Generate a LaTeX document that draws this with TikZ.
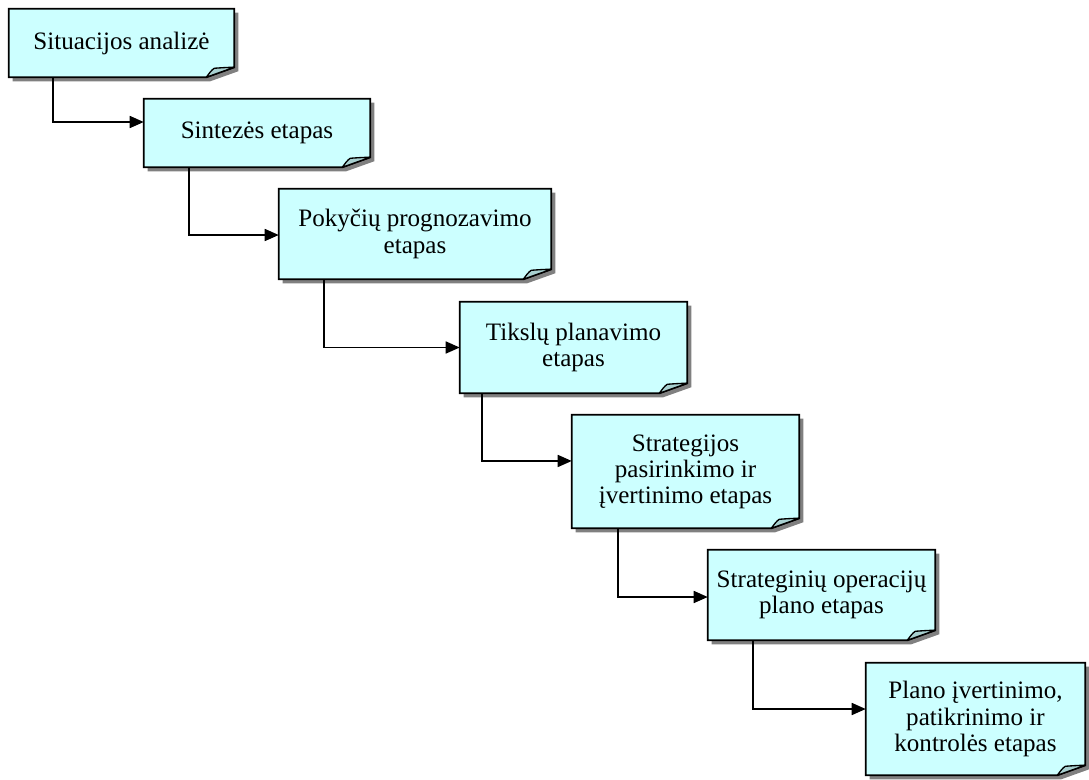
\documentclass[tikz,border=0pt]{standalone}
\usepackage{fontspec}
\setmainfont{Liberation Serif}
\usetikzlibrary{arrows.meta,backgrounds,calc}

\definecolor{notefill}{HTML}{CCFFFF}
\definecolor{flapfill}{HTML}{A8D0D0}
\definecolor{shadowgray}{HTML}{808080}

\tikzset{
  stage/.style={draw=none, fill=none, inner sep=0pt, align=center,
    font=\fontsize{18.8pt}{19.6pt}\selectfont},
  link/.style={line width=1.2pt, -{Triangle[length=10.5pt,width=9pt]}},
  notebody/.style={fill=notefill, draw=black, line width=1.4pt, line join=miter},
  noteflap/.style={fill=flapfill, draw=black, line width=1pt, line join=round},
  noteshadow/.style={fill=shadowgray, draw=none}
}

\begin{document}
\begin{tikzpicture}[x=0.75pt, y=-0.75pt]
  \useasboundingbox (0,0) rectangle (1089,779);

  % process stages
  \node[stage, minimum width=168.75pt, minimum height=51pt] (b1) at (121.5,43)
    {Situacijos analizė};
  \node[stage, minimum width=169.5pt, minimum height=51pt] (b2) at (257,133)
    {Sintezės etapas};
  \node[stage, minimum width=204pt, minimum height=67.5pt] (b3) at (415,234)
    {Pokyčių prognozavimo\\etapas};
  \node[stage, minimum width=170.25pt, minimum height=68.25pt] (b4) at (573.5,347.5)
    {Tikslų planavimo\\etapas};
  \node[stage, minimum width=170.25pt, minimum height=84.75pt] (b5) at (685.5,471.5)
    {Strategijos\\pasirinkimo ir\\įvertinimo etapas};
  \node[stage, minimum width=170.25pt, minimum height=67.5pt] (b6) at (821.5,595)
    {Strateginių operacijų\\plano etapas};
  \node[stage, minimum width=164.25pt, minimum height=84pt] (b7) at (975.5,719)
    {Plano įvertinimo,\\patikrinimo ir\\kontrolės etapas};

  % note-shaped boxes with drop shadow and folded corner
  \begin{pgfonlayer}{background}
    \foreach \n in {b1,b2,b3,b4,b5,b6,b7}{
      \path[noteshadow]
        ($(\n.north west)+(4,4)$) -- ($(\n.north east)+(4,4)$)
        -- ($(\n.south east)+(4,-6)$) -- ($(\n.south east)+(-24,4)$)
        -- ($(\n.south west)+(4,4)$) -- cycle;
      \path[notebody]
        (\n.north west) -- (\n.north east)
        -- ($(\n.south east)+(0,-10)$) -- ($(\n.south east)+(-28,0)$)
        -- (\n.south west) -- cycle;
      \path[noteflap]
        ($(\n.south east)+(-28,0)$)
        .. controls ($(\n.south east)+(-25,-4)$) and ($(\n.south east)+(-23,-7)$)
        .. ($(\n.south east)+(-20,-9)$)
        .. controls ($(\n.south east)+(-13,-9.5)$) and ($(\n.south east)+(-6,-10)$)
        .. ($(\n.south east)+(0,-10)$)
        -- cycle;
    }
  \end{pgfonlayer}

  % connectors
  \draw[link] ([xshift=33pt]b1.south west) |- ([yshift=8.25pt]b2.west);
  \draw[link] ([xshift=33.75pt]b2.south west) |- ([yshift=-0.75pt]b3.west);
  \draw[link] ([xshift=33.75pt]b3.south west) |- (b4.west);
  \draw[link] ([xshift=16.5pt]b4.south west) |- ([yshift=7.9pt]b5.west);
  \draw[link] ([xshift=34.5pt]b5.south west) |- ([yshift=-1.5pt]b6.west);
  \draw[link] ([xshift=33.75pt]b6.south west) |- ([yshift=7.5pt]b7.west);
\end{tikzpicture}
\end{document}
